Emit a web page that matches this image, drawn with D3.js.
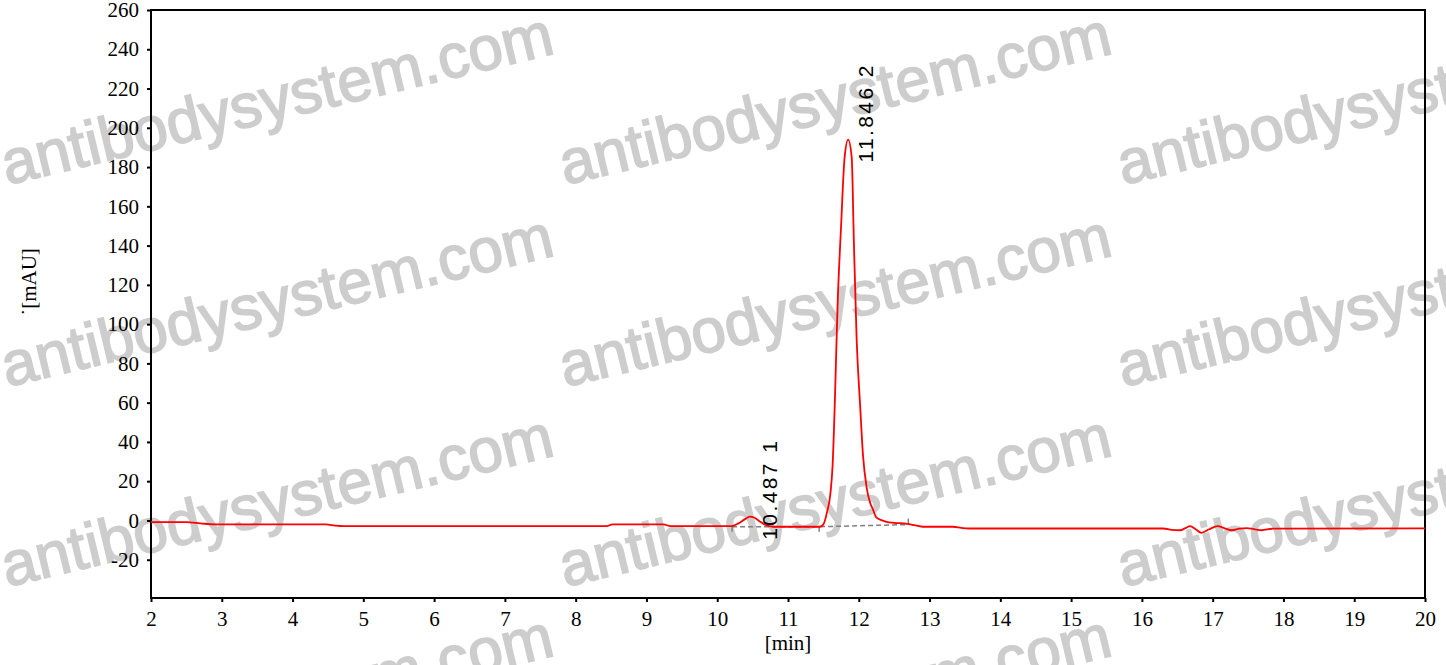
<html>
<head>
    <meta charset="utf-8">
    <script type="text/javascript" src="https://cdnjs.cloudflare.com/ajax/libs/d3/7.8.5/d3.min.js"></script>
    <style>
        body { margin: 0; background: #fff; }
    </style>
</head>
<body>
    <div id="viz"></div>
    <script type="text/javascript">

    // chromatogram trace
    var times = [2.00, 2.50, 2.70, 2.90, 4.47, 4.60, 4.72, 8.44, 8.52, 9.24, 9.34,
        10.20, 10.30, 10.40, 10.46, 10.52, 10.60, 10.70, 10.80, 11.45, 11.50,
        11.55, 11.60, 11.63, 11.66, 11.70, 11.75, 11.80, 11.85, 11.90, 11.93,
        11.97, 12.02, 12.06, 12.11, 12.16, 12.20, 12.25, 12.33, 12.39, 12.50,
        12.68, 12.80, 12.91, 13.33, 13.45, 13.55, 16.30, 16.42, 16.54, 16.62,
        16.68, 16.76, 16.84, 16.95, 17.07, 17.17, 17.27, 17.38, 17.48, 17.58,
        17.69, 17.85, 20.00];
    var mAU = [-0.9, -0.9, -1.5, -2.0, -2.0, -2.6, -2.9, -2.9, -2.0, -2.0, -2.9,
        -2.9, -1.5, 0.8, 1.9, 1.5, -0.5, -2.5, -3.2, -3.2, -2.0,
        4, 14, 28, 58, 109, 150, 185, 194, 185, 143,
        92, 58, 33, 17, 9, 5.6, 1.4, 0.0, -0.7, -1.2,
        -1.7, -2.5, -3.2, -3.2, -3.8, -4.1, -4.1, -4.8, -5.0, -3.8,
        -2.9, -4.5, -6.3, -4.5, -2.9, -4.0, -5.0, -4.2, -3.9, -4.4,
        -5.0, -4.2, -4.0];

    // integration baseline points
    var baseTimes = [10.21, 11.44, 12.70];
    var baseValues = [-3.2, -3.2, -2.1];

    // peak labels
    var peakTimes = [10.487, 11.846];
    var peakHeights = [1.9, 194];
    var peakNumbers = [1, 2];

    var xTicks = [2, 3, 4, 5, 6, 7, 8, 9, 10, 11, 12, 13, 14, 15, 16, 17, 18, 19, 20];
    var yTicks = [-20, 0, 20, 40, 60, 80, 100, 120, 140, 160, 180, 200, 220, 240, 260];

    var W = 1446, H = 665;
    var pLeft = 151, pRight = 1425, pTop = 10, pBottom = 598;

    var svg = d3.select("#viz")
        .append("svg")
        .attr("width", W)
        .attr("height", H);

    var x = d3.scaleLinear().domain([2, 20]).range([pLeft, pRight]);
    var y = d3.scaleLinear().domain([-39.5, 260]).range([pBottom, pTop]);

    // watermark
    var wm = svg.append("g");
    [7, 565, 1123].forEach(function(cx){
        [185, 387, 587, 787].forEach(function(cy){
            wm.append("text")
                .attr("transform", "translate(" + cx + "," + cy + ") rotate(-13.5)")
                .style("font-family", "'Liberation Sans', Arial, sans-serif")
                .style("font-size", "62px")
                .style("fill", "#cdcdcd")
                .style("stroke", "#cdcdcd")
                .style("stroke-width", 1.6)
                .text("antibodysystem.com");
        });
    });

    // axes
    var plain = function(d){ return String(d); };
    var xAxis = svg.append("g")
        .attr("transform", "translate(0," + pBottom + ")")
        .call(d3.axisBottom(x).tickValues(xTicks).tickFormat(plain).tickSize(4).tickSizeOuter(0).tickPadding(9));
    var yAxis = svg.append("g")
        .attr("transform", "translate(" + pLeft + ",0)")
        .call(d3.axisLeft(y).tickValues(yTicks).tickFormat(plain).tickSize(4).tickSizeOuter(0).tickPadding(8));

    [xAxis, yAxis].forEach(function(a){
        a.select(".domain").remove();
        a.selectAll(".tick line").style("stroke", "#000").style("stroke-width", 2);
        a.selectAll(".tick text")
            .style("font-family", "'Liberation Serif', 'Times New Roman', serif")
            .style("font-size", "21px")
            .style("fill", "#000");
    });

    svg.append("rect")
        .attr("x", pLeft)
        .attr("y", pTop)
        .attr("width", pRight - pLeft)
        .attr("height", pBottom - pTop)
        .style("fill", "none")
        .style("stroke", "#000")
        .style("stroke-width", 2);

    svg.append("text")
        .attr("x", (pLeft + pRight) / 2)
        .attr("y", 650)
        .attr("text-anchor", "middle")
        .style("font-family", "'Liberation Serif', 'Times New Roman', serif")
        .style("font-size", "21px")
        .text("[min]");

    svg.append("text")
        .attr("transform", "translate(36,282) rotate(-90)")
        .attr("text-anchor", "middle")
        .style("font-family", "'Liberation Serif', 'Times New Roman', serif")
        .style("font-size", "21px")
        .text("\u02D9[mAU]");

    // integration baseline (dashed) with end marks
    var bp = baseTimes.map(function(t, i){ return [t, baseValues[i]]; });
    svg.append("path")
        .datum(bp)
        .attr("d", d3.line().x(function(d){ return x(d[0]); }).y(function(d){ return y(d[1]); }))
        .style("fill", "none")
        .style("stroke", "#808080")
        .style("stroke-width", 1.5)
        .style("stroke-dasharray", "5,3");
    svg.selectAll(".bmark")
        .data(bp)
        .enter().append("line")
        .attr("x1", function(d){ return x(d[0]); })
        .attr("x2", function(d){ return x(d[0]); })
        .attr("y1", function(d, i){ return y(d[1]) - (i == 2 ? 6 : 1); })
        .attr("y2", function(d, i){ return y(d[1]) + (i == 2 ? 0 : 5); })
        .style("stroke", "#808080")
        .style("stroke-width", 1.5);

    // trace
    var pts = times.map(function(t, i){ return [t, mAU[i]]; });
    svg.append("path")
        .datum(pts)
        .attr("d", d3.line().curve(d3.curveMonotoneX)
            .x(function(d){ return x(d[0]); })
            .y(function(d){ return y(d[1]); }))
        .style("fill", "none")
        .style("stroke", "#ff0000")
        .style("stroke-width", 1.8);

    // peak labels
    peakTimes.forEach(function(t, i){
        svg.append("text")
            .attr("transform", "translate(" + (x(t) + 25) + "," + (y(peakHeights[i]) + 23) + ") rotate(-90)")
            .style("font-family", "'Liberation Sans', Arial, sans-serif")
            .style("font-size", "21px")
            .style("letter-spacing", "2.4px")
            .style("fill", "#000")
            .text(t.toFixed(3) + " " + peakNumbers[i]);
    });

    </script>
</body>
</html>
